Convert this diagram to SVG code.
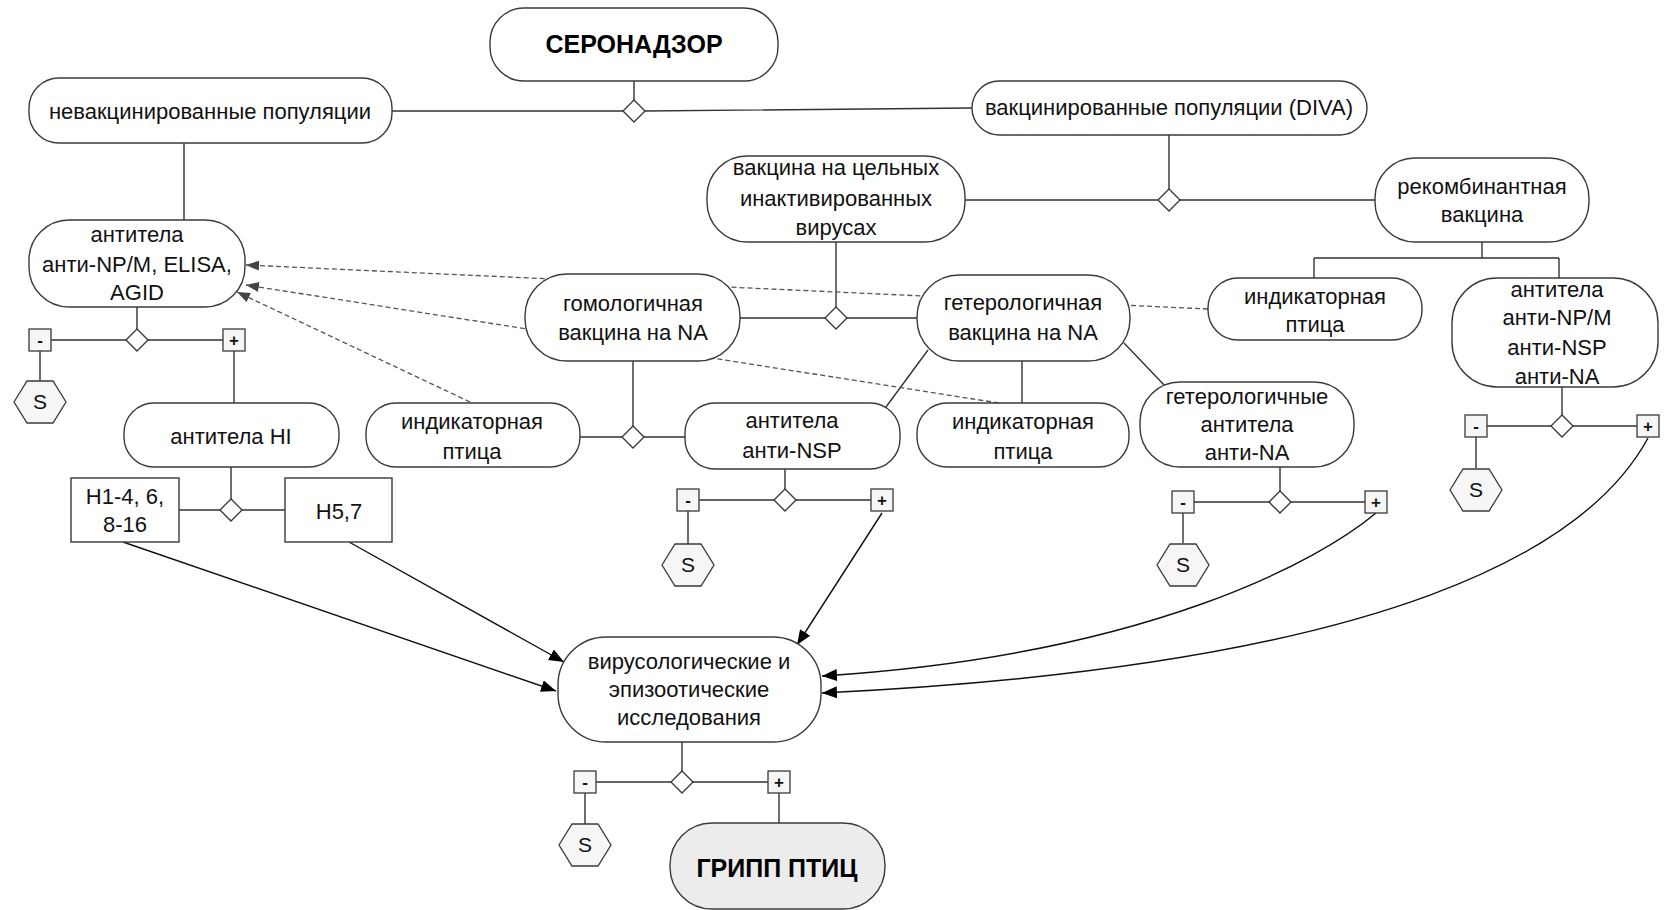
<svg xmlns="http://www.w3.org/2000/svg" xmlns:xlink="http://www.w3.org/1999/xlink" width="1664" height="910" viewBox="0 0 1664 910">
<style>
.n{fill:#fff;stroke:#3a3a3a;stroke-width:1.4}
.gr{fill:#ececec;stroke:#3a3a3a;stroke-width:1.4}
.sm{fill:#f6f6f6;stroke:#3a3a3a;stroke-width:1.3}
.t{font-family:"Liberation Sans",Arial,sans-serif;font-size:22px;fill:#111;text-anchor:middle}
.b{font-family:"Liberation Sans",Arial,sans-serif;font-size:25px;font-weight:bold;fill:#000;text-anchor:middle}
.s{font-family:"Liberation Sans",Arial,sans-serif;font-size:21px;fill:#111;text-anchor:middle}
.pm{font-family:"Liberation Sans",Arial,sans-serif;font-size:17px;font-weight:bold;fill:#111;text-anchor:middle}
.l{fill:none;stroke:#333;stroke-width:1.4}
.d{fill:none;stroke:#555;stroke-width:1.3;stroke-dasharray:5 3}
.a{fill:none;stroke:#111;stroke-width:1.4}
</style>
<defs>
<marker id="ah" markerUnits="userSpaceOnUse" markerWidth="16" markerHeight="12" refX="15" refY="6" orient="auto"><path d="M0,0 L15,6 L0,12 z" fill="#000"/></marker>
<marker id="dh" markerUnits="userSpaceOnUse" markerWidth="14" markerHeight="10" refX="13" refY="5" orient="auto"><path d="M0,0 L13,5 L0,10 z" fill="#444"/></marker>
<polygon id="dia" points="0,-11 11,0 0,11 -11,0"/>
<rect id="sq" x="-11" y="-11" width="22" height="22"/>
<polygon id="hex" points="-26,0 -13,-21 13,-21 26,0 13,21 -13,21"/>
</defs>

<g id="connectors">
<path class="l" d="M634,81 V101 M392,111 H623 M645,111 L972,108"/>
<path class="l" d="M184,143 V220"/>
<path class="l" d="M1169,135 V189 M965,200 H1158 M1180,200 H1375"/>
<path class="l" d="M1482,242 V258 M1314,258 H1559 M1314,258 V278 M1559,258 V278"/>
<path class="l" d="M836,242 V307 M740,318 H825 M847,318 H917"/>
<path class="l" d="M633,361 V426 M580,437 H622 M644,437 H685"/>
<path class="l" d="M928,350 L886,407 M1022,361 V403 M1124,343 L1166,387"/>
<path class="l" d="M137,307 V329 M51,340 H126 M148,340 H223 M40,351 V381 M234,351 V403"/>
<path class="l" d="M231,467 V499 M179,510 H220 M242,510 H285"/>
<path class="l" d="M785,469 V489 M699,500 H774 M796,500 H871 M688,511 V544"/>
<path class="l" d="M1280,467 V491 M1194,502 H1269 M1291,502 H1365 M1183,513 V543"/>
<path class="l" d="M1562,387 V415 M1487,426 H1551 M1573,426 H1637 M1476,437 V468"/>
<path class="l" d="M682,742 V771 M596,782 H671 M693,782 H768 M585,793 V824 M779,793 V823"/>
<path class="d" marker-end="url(#dh)" d="M1208,309 L246,265"/>
<path class="d" marker-end="url(#dh)" d="M999,403 L246,285"/>
<path class="d" marker-end="url(#dh)" d="M470,402 L237,292"/>
<path class="a" marker-end="url(#ah)" d="M123,542 L556,691"/>
<path class="a" marker-end="url(#ah)" d="M349,542 L564,662"/>
<path class="a" marker-end="url(#ah)" d="M882,513 L797,645"/>
<path class="a" marker-end="url(#ah)" d="M1376,513 C1320,560 1150,655 822,676"/>
<path class="a" marker-end="url(#ah)" d="M1648,438 C1590,545 1400,665 822,693"/>
</g>

<g id="n-seronadzor"><rect class="n" x="490" y="8" width="288" height="73" rx="34"/><text class="b" x="634" y="53">СЕРОНАДЗОР</text></g>
<g id="n-nevak"><rect class="n" x="29" y="78" width="363" height="65" rx="30"/><text class="t" x="210" y="119">невакцинированные популяции</text></g>
<g id="n-diva"><rect class="n" x="972" y="81" width="395" height="54" rx="27"/><text class="t" x="1169" y="115">вакцинированные популяции (DIVA)</text></g>
<g id="n-antiNPM"><rect class="n" x="29" y="220" width="216" height="87" rx="40"/><text class="t" x="137" y="242">антитела</text><text class="t" x="137" y="272">анти-NP/M, ELISA,</text><text class="t" x="137" y="300">AGID</text></g>
<g id="n-vakcel"><rect class="n" x="707" y="156" width="258" height="86" rx="40"/><text class="t" x="836" y="175">вакцина на цельных</text><text class="t" x="836" y="206">инактивированных</text><text class="t" x="836" y="235">вирусах</text></g>
<g id="n-rekomb"><rect class="n" x="1375" y="158" width="214" height="84" rx="40"/><text class="t" x="1482" y="194">рекомбинантная</text><text class="t" x="1482" y="222">вакцина</text></g>
<g id="n-gomolog"><rect class="n" x="525" y="274" width="215" height="87" rx="42"/><text class="t" x="633" y="311">гомологичная</text><text class="t" x="633" y="340">вакцина на NA</text></g>
<g id="n-geterolog"><rect class="n" x="917" y="275" width="213" height="86" rx="42"/><text class="t" x="1023" y="310">гетерологичная</text><text class="t" x="1023" y="340">вакцина на NA</text></g>
<g id="n-indikR"><rect class="n" x="1208" y="278" width="214" height="62" rx="30"/><text class="t" x="1315" y="304">индикаторная</text><text class="t" x="1315" y="332">птица</text></g>
<g id="n-antiR"><rect class="n" x="1452" y="278" width="206" height="109" rx="45"/><text class="t" x="1557" y="297">антитела</text><text class="t" x="1557" y="325">анти-NP/M</text><text class="t" x="1557" y="355">анти-NSP</text><text class="t" x="1557" y="384">анти-NA</text></g>
<g id="n-antiHI"><rect class="n" x="124" y="403" width="215" height="64" rx="30"/><text class="t" x="231" y="444">антитела HI</text></g>
<g id="n-indikL"><rect class="n" x="366" y="403" width="214" height="64" rx="30"/><text class="t" x="472" y="429">индикаторная</text><text class="t" x="472" y="459">птица</text></g>
<g id="n-antiNSP"><rect class="n" x="685" y="403" width="215" height="66" rx="30"/><text class="t" x="792" y="428">антитела</text><text class="t" x="792" y="458">анти-NSP</text></g>
<g id="n-indikM"><rect class="n" x="917" y="403" width="212" height="64" rx="30"/><text class="t" x="1023" y="429">индикаторная</text><text class="t" x="1023" y="459">птица</text></g>
<g id="n-geteroAT"><rect class="n" x="1140" y="382" width="214" height="85" rx="40"/><text class="t" x="1247" y="404">гетерологичные</text><text class="t" x="1247" y="432">антитела</text><text class="t" x="1247" y="460">анти-NA</text></g>
<g id="n-H1"><rect class="n" x="71" y="478" width="108" height="64"/><text class="t" x="125" y="504">H1-4, 6,</text><text class="t" x="125" y="532">8-16</text></g>
<g id="n-H57"><rect class="n" x="285" y="478" width="107" height="64"/><text class="t" x="339" y="519">H5,7</text></g>
<g id="n-virus"><rect class="n" x="558" y="637" width="263" height="105" rx="48"/><text class="t" x="689" y="669">вирусологические и</text><text class="t" x="689" y="697">эпизоотические</text><text class="t" x="689" y="725">исследования</text></g>
<g id="n-gripp"><rect class="gr" x="670" y="823" width="215" height="86" rx="42"/><text class="b" x="777" y="877">ГРИПП ПТИЦ</text></g>

<g id="gate-top"><use href="#dia" class="n" x="634" y="111"/></g>
<g id="gate-diva"><use href="#dia" class="n" x="1169" y="200"/></g>
<g id="gate-vakcel"><use href="#dia" class="n" x="836" y="318"/></g>
<g id="gate-gomolog"><use href="#dia" class="n" x="633" y="437"/></g>
<g id="gate-antiHI"><use href="#dia" class="n" x="231" y="510"/></g>
<g id="gate-antiNPM"><use href="#dia" class="n" x="137" y="340"/><use href="#sq" class="sm" x="40" y="340"/><text class="pm" x="40" y="346">-</text><use href="#sq" class="sm" x="234" y="340"/><text class="pm" x="234" y="346">+</text><use href="#hex" class="sm" x="40" y="402"/><text class="s" x="40" y="409">S</text></g>
<g id="gate-antiNSP"><use href="#dia" class="n" x="785" y="500"/><use href="#sq" class="sm" x="688" y="500"/><text class="pm" x="688" y="506">-</text><use href="#sq" class="sm" x="882" y="500"/><text class="pm" x="882" y="506">+</text><use href="#hex" class="sm" x="688" y="565"/><text class="s" x="688" y="572">S</text></g>
<g id="gate-geteroAT"><use href="#dia" class="n" x="1280" y="502"/><use href="#sq" class="sm" x="1183" y="502"/><text class="pm" x="1183" y="508">-</text><use href="#sq" class="sm" x="1376" y="502"/><text class="pm" x="1376" y="508">+</text><use href="#hex" class="sm" x="1183" y="565"/><text class="s" x="1183" y="572">S</text></g>
<g id="gate-antiR"><use href="#dia" class="n" x="1562" y="426"/><use href="#sq" class="sm" x="1476" y="426"/><text class="pm" x="1476" y="432">-</text><use href="#sq" class="sm" x="1648" y="426"/><text class="pm" x="1648" y="432">+</text><use href="#hex" class="sm" x="1476" y="490"/><text class="s" x="1476" y="497">S</text></g>
<g id="gate-virus"><use href="#dia" class="n" x="682" y="782"/><use href="#sq" class="sm" x="585" y="782"/><text class="pm" x="585" y="788">-</text><use href="#sq" class="sm" x="779" y="782"/><text class="pm" x="779" y="788">+</text><use href="#hex" class="sm" x="585" y="845"/><text class="s" x="585" y="852">S</text></g>
</svg>
